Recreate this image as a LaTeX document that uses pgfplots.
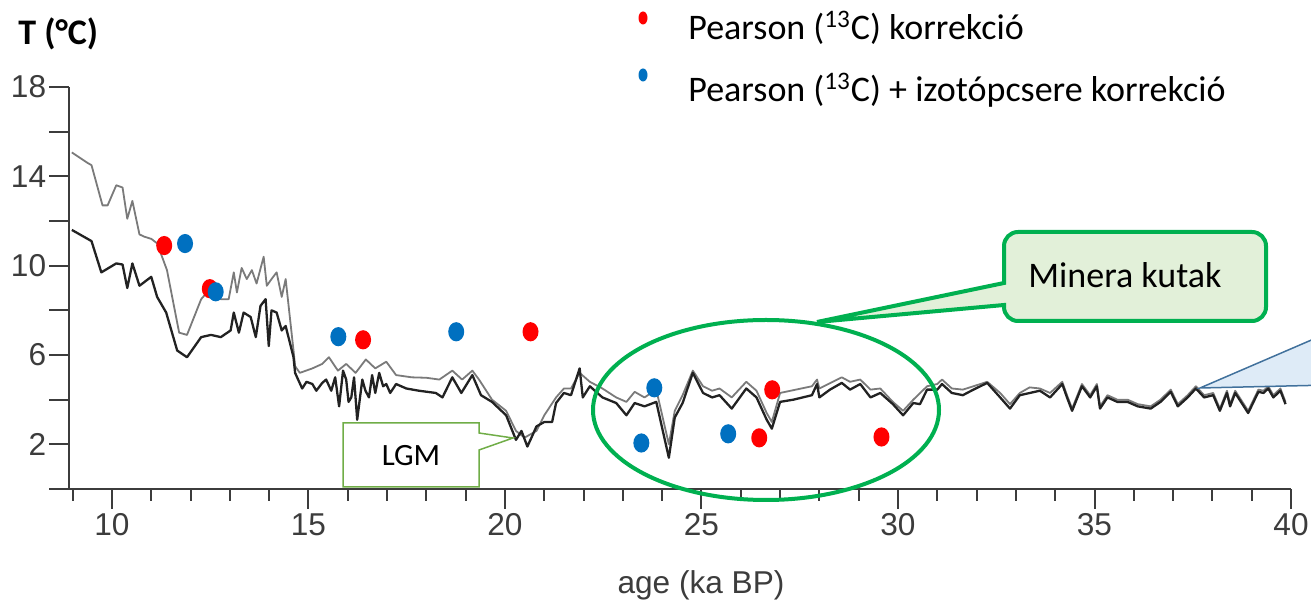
\documentclass[border=0pt]{standalone}
\usepackage{pgfplots}
\pgfplotsset{compat=1.18}
\usepackage{fontspec}
\setmainfont{Liberation Sans}
\newfontfamily\calibri{Carlito}
\definecolor{redpt}{HTML}{FF0000}
\definecolor{bluept}{HTML}{0070C0}
\definecolor{axgray}{HTML}{3C3C3C}
\definecolor{curvegray}{HTML}{7A7A7A}
\definecolor{curvedark}{HTML}{222222}
\definecolor{lgmgreen}{HTML}{70AD47}
\definecolor{boxgreen}{HTML}{00B050}
\definecolor{boxfill}{HTML}{E2F0D9}
\definecolor{bluefill}{HTML}{DEEBF7}
\definecolor{blueline}{HTML}{41719C}
\pgfdeclareplotmark{oval}{\pgfpathellipse{\pgfpointorigin}{\pgfqpoint{\pgfplotmarksize}{0pt}}{\pgfqpoint{0pt}{1.2\pgfplotmarksize}}\pgfusepathqfill}

\pgfplotstableread{
x y
8.98 11.6
9.38 11.2
9.48 11.1
9.73 9.7
10.11 10.1
10.27 10.05
10.39 9.0
10.52 10.1
10.70 9.1
11.0 9.5
11.15 8.6
11.38 7.9
11.66 6.2
11.91 5.9
12.27 6.8
12.52 6.9
12.77 6.8
13.02 7.1
13.1 7.9
13.23 7.0
13.35 7.9
13.53 7.7
13.66 6.8
13.78 8.2
13.91 8.5
13.99 6.4
14.06 8.0
14.19 7.9
14.32 7.1
14.42 7.3
14.62 5.9
14.66 5.2
14.84 4.5
14.95 4.8
15.1 4.7
15.2 4.4
15.35 4.75
15.45 4.9
15.58 4.4
15.68 5.0
15.78 3.7
15.88 5.3
15.96 4.9
16.02 3.9
16.09 4.1
16.16 5.0
16.24 3.1
16.37 4.9
16.45 4.4
16.54 4.1
16.62 5.1
16.7 4.3
16.8 5.2
16.9 4.6
16.98 4.7
17.08 4.3
17.23 4.7
17.49 4.5
17.81 4.4
18.24 4.3
18.41 4.1
18.66 5.0
18.89 4.3
19.17 5.1
19.39 4.2
19.67 3.9
20.03 3.3
20.28 2.2
20.42 2.6
20.57 1.9
20.7 2.4
20.8 2.8
21.0 3.0
21.2 3.0
21.3 3.85
21.5 4.3
21.68 4.2
21.9 5.4
21.98 4.1
22.16 4.6
22.48 4.1
22.83 3.85
23.09 3.3
23.3 3.85
23.55 3.7
23.85 3.9
24.17 1.4
24.32 3.2
24.52 3.85
24.78 5.2
25.04 4.3
25.27 4.1
25.46 4.2
25.77 3.6
26.14 4.5
26.4 4.1
26.66 3.1
26.79 2.7
27.0 3.9
27.34 4.0
27.81 4.2
27.94 4.7
28.0 4.1
28.27 4.45
28.57 4.75
28.78 4.45
29.04 4.7
29.3 4.1
29.55 4.3
29.87 3.8
30.13 3.3
30.39 3.85
30.56 3.8
30.74 4.45
31.0 4.45
31.12 4.7
31.37 4.3
31.65 4.2
31.92 4.45
32.27 4.75
32.6 4.1
32.85 3.6
33.1 4.2
33.61 4.4
33.87 4.1
34.18 4.7
34.3 4.1
34.43 3.5
34.68 4.6
34.89 4.1
35.06 4.6
35.14 3.6
35.33 4.1
35.58 3.9
35.84 3.9
36.1 3.7
36.43 3.6
36.68 3.9
36.94 4.35
37.12 3.7
37.37 4.1
37.58 4.5
37.79 4.1
38.02 4.2
38.19 3.5
38.37 4.3
38.45 3.7
38.58 4.3
38.91 3.4
39.17 4.35
39.3 4.3
39.42 4.5
39.55 4.1
39.73 4.4
39.86 3.8
}\darkcurve

\pgfplotstableread{
x y
8.98 15.07
9.38 14.6
9.48 14.5
9.76 12.7
9.89 12.7
10.11 13.6
10.27 13.5
10.39 12.1
10.52 12.9
10.70 11.4
10.82 11.3
11.0 11.2
11.15 11.0
11.4 9.8
11.71 7.0
11.91 6.9
12.27 8.5
12.42 8.8
12.77 8.5
12.97 8.5
13.1 9.7
13.18 8.8
13.3 9.9
13.43 9.4
13.56 9.8
13.68 9.2
13.86 10.4
13.94 9.1
14.06 9.4
14.19 9.7
14.32 8.6
14.42 9.4
14.62 6.2
14.66 5.5
14.78 5.2
15.1 5.4
15.35 5.6
15.52 5.9
15.75 5.3
15.96 5.6
16.2 5.2
16.46 5.8
16.7 5.4
16.98 5.7
17.23 5.1
17.63 5.0
18.0 4.98
18.33 4.9
18.66 5.3
18.91 4.9
19.17 5.3
19.34 4.9
19.67 4.0
20.03 3.5
20.28 2.6
20.5 2.3
20.8 2.6
21.0 3.3
21.3 4.1
21.5 4.5
21.68 4.5
21.9 5.2
22.16 4.8
22.48 4.5
22.83 4.1
23.09 3.9
23.3 4.35
23.55 4.1
23.85 4.45
24.17 2.0
24.32 3.5
24.52 4.2
24.78 5.3
25.04 4.6
25.27 4.4
25.46 4.5
25.77 4.1
26.14 4.8
26.4 4.4
26.66 3.4
26.79 3.0
27.0 4.3
27.81 4.6
27.94 4.9
28.0 4.5
28.57 5.0
28.78 4.8
29.04 4.9
29.3 4.45
29.55 4.5
29.87 3.9
30.13 3.5
30.39 4.0
30.74 4.6
31.0 4.7
31.12 4.9
31.37 4.5
31.65 4.45
31.92 4.6
32.27 4.8
32.6 4.3
32.85 3.8
33.1 4.3
33.35 4.55
33.61 4.5
33.87 4.3
34.18 4.8
34.3 4.2
34.43 3.6
34.68 4.7
34.89 4.2
35.06 4.7
35.14 3.7
35.33 4.2
35.58 4.0
35.84 4.0
36.1 3.8
36.43 3.7
36.68 4.0
36.94 4.45
37.12 3.8
37.37 4.2
37.58 4.6
37.79 4.2
38.02 4.3
38.19 3.6
38.37 4.4
38.45 3.8
38.58 4.4
38.91 3.5
39.17 4.45
39.3 4.4
39.42 4.6
39.55 4.2
39.73 4.5
39.86 3.9
}\graycurve

\pgfplotstableread{
x y
11.33 10.9
12.49 8.97
16.39 6.68
20.65 7.04
26.8 4.44
26.47 2.29
29.58 2.33
}\reddots

\pgfplotstableread{
x y
11.86 10.99
12.64 8.83
15.76 6.82
18.76 7.04
23.8 4.53
23.47 2.06
25.68 2.47
}\bluedots

\begin{document}
\begin{tikzpicture}
\useasboundingbox (0,0) rectangle (655.5pt,302pt);
\clip (0,0) rectangle (655.5pt,302pt);
\begin{axis}[
  at={(34.75pt,57.5pt)}, anchor=south west,
  scale only axis, width=610.75pt, height=201pt,
  xmin=8.92, xmax=40, ymin=0, ymax=18,
  axis x line*=bottom, axis y line*=left,
  axis line style={axgray, line width=1pt},
  xtick={10,15,...,40}, minor xtick={9,...,39},
  ytick={0,2,...,18}, yticklabels={,2,,6,,10,,14,,18},
  tick align=outside,
  major tick length=10pt, minor tick length=6pt,
  tick style={axgray, line width=1pt},
  /pgf/number format/assume math mode=true,
  ticklabel style={font=\fontsize{15.8}{18}\selectfont, text=axgray},
  xticklabel style={inner sep=2pt},
  yticklabel style={inner sep=1.5pt},
  clip=false,
]
\addplot[curvegray, line width=0.9pt, line join=round] table {\graycurve};
\addplot[curvedark, line width=1.15pt, line join=round] table {\darkcurve};
\addplot[only marks, mark=oval, mark size=4pt, redpt] table {\reddots};
\addplot[only marks, mark=oval, mark size=4pt, bluept] table {\bluedots};
\end{axis}
\begin{scope}[x=0.5pt,y=-0.5pt,shift={(0pt,302pt)}]
% LGM callout
\draw[lgmgreen, line width=0.75pt, fill=white] (343,423) -- (479,423) -- (479,433) -- (513,438) -- (479,450) -- (479,487) -- (343,487) -- cycle;
\node[font=\calibri\fontsize{15.5}{18}\selectfont, anchor=base] at (411,466) {LGM};
% Minera callout
\draw[boxgreen, line width=2pt, fill=boxfill] (1004,283) -- (817,322) -- (1004,305) [rounded corners=7pt] -- (1004,321) -- (1266,321) -- (1266,232) -- (1004,232) [sharp corners] -- cycle;
\node[font=\calibri\fontsize{18}{22}\selectfont, anchor=base] at (1125,288) {Minera kutak};
\draw[boxgreen, line width=2pt] (766,410) ellipse [x radius=173, y radius=90];
% blue callout (cut off)
\draw[blueline, line width=0.75pt, fill=bluefill] (1200,388) -- (1330,332) -- (1330,385) -- cycle;
% legend
\fill[redpt] (643,18) ellipse [x radius=4.5, y radius=6.5];
\node[inner sep=0pt, anchor=base west, font=\calibri\fontsize{18}{22}\selectfont] at (688,40) {Pearson (\textsuperscript{13}C) korrekció};
\fill[bluept] (643,75) ellipse [x radius=4.5, y radius=6.5];
\node[inner sep=0pt, anchor=base west, font=\calibri\fontsize{18}{22}\selectfont] at (688,102) {Pearson (\textsuperscript{13}C) + izotópcsere korrekció};
% title and axis label
\node[inner sep=0pt, anchor=base west, font=\calibri\bfseries\fontsize{18}{22}\selectfont] at (18,45) {T (°C)};
\node[anchor=base, font=\fontsize{15.8}{19}\selectfont, text=axgray] at (701,594) {age (ka BP)};
\end{scope}
\end{tikzpicture}
\end{document}
